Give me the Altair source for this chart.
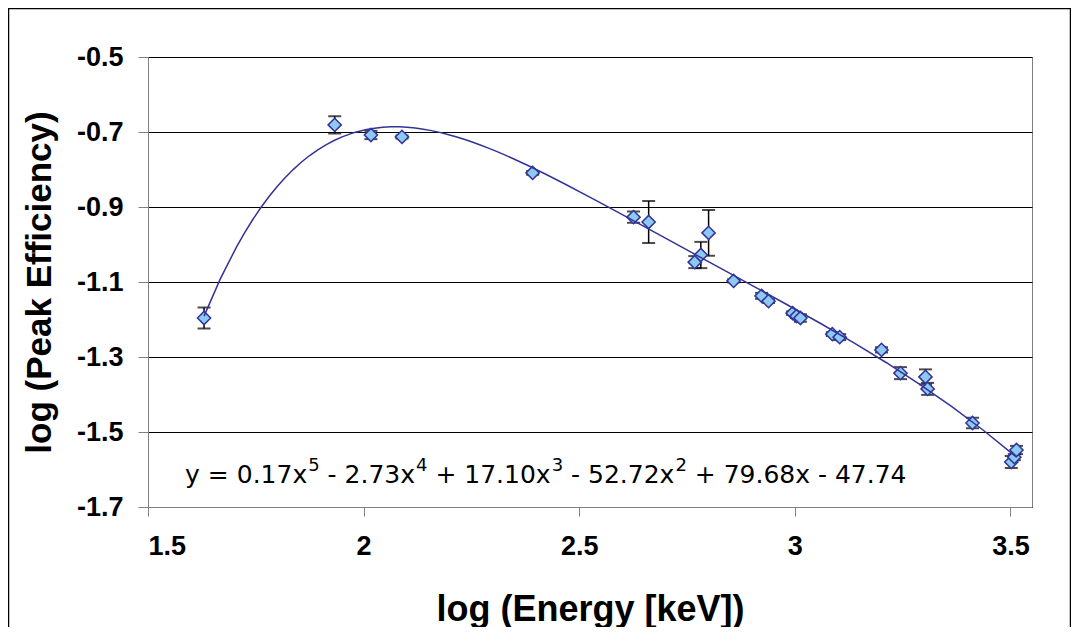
import altair as alt
import pandas as pd

# Data
log_energy = [1.630, 1.933, 2.017, 2.089, 2.392, 2.626, 2.661, 2.768, 2.782, 2.800,
              2.858, 2.923, 2.939, 2.995, 3.004, 3.013, 3.087, 3.104, 3.201, 3.245,
              3.303, 3.308, 3.412, 3.502, 3.509, 3.514]
log_eff = [-1.196, -0.681, -0.708, -0.713, -0.809, -0.927, -0.940, -1.047, -1.028, -0.969,
           -1.097, -1.137, -1.151, -1.183, -1.191, -1.196, -1.239, -1.247, -1.281, -1.343,
           -1.353, -1.385, -1.476, -1.580, -1.567, -1.548]
err = [0.028, 0.023, 0.011, 0.004, 0.005, 0.015, 0.056, 0.016, 0.035, 0.061,
       0.004, 0.008, 0.005, 0.005, 0.005, 0.010, 0.005, 0.008, 0.007, 0.016,
       0.020, 0.016, 0.014, 0.016, 0.008, 0.011]

x_ticks = [1.5, 2, 2.5, 3, 3.5]
y_ticks = [-1.7, -1.5, -1.3, -1.1, -0.9, -0.7, -0.5]

# Trendline equation label (anchor in data units) and its pieces
eq_x = [1.586]
eq_y = [-1.636]
eq_main = ["y = 0.17x", "- 2.73x", "+ 17.10x", "- 52.72x", "+ 79.68x - 47.74"]
eq_sup = ["5", "4", "3", "2"]

df = pd.DataFrame({
    "x": log_energy,
    "y": log_eff,
    "lo": [v - e for v, e in zip(log_eff, err)],
    "hi": [v + e for v, e in zip(log_eff, err)],
})
eq_df = pd.DataFrame({"x": eq_x, "y": eq_y})

FONT = "Liberation Sans"
EQ_FONT = "DejaVu Sans"
W, H = 884, 450

xscale = alt.Scale(domain=[1.5, 3.55], nice=False, zero=False)
yscale = alt.Scale(domain=[-1.7, -0.5], nice=False, zero=False)

x_axis = alt.Axis(
    title="log (Energy [keV])", values=x_ticks, format=".1~f", grid=False,
    labelFont=FONT, labelFontWeight="bold", labelFontSize=27, labelColor="black",
    labelPadding=17, tickSize=9, tickColor="#808080", domainColor="#808080",
    titleFont=FONT, titleFontWeight="bold", titleFontSize=36, titleColor="black",
    titleBaseline="alphabetic", titleY=113, titleX=W / 2,
)
y_axis = alt.Axis(
    title="log (Peak Efficiency)", values=y_ticks,
    labelExpr="datum.value < 0 ? '-' + format(abs(datum.value), '.1f') : format(datum.value, '.1f')",
    grid=True, gridColor="black", gridWidth=1,
    labelFont=FONT, labelFontWeight="bold", labelFontSize=27, labelColor="black",
    labelPadding=15, tickSize=10, tickColor="#808080", domainColor="#808080",
    titleFont=FONT, titleFontWeight="bold", titleFontSize=35, titleColor="black",
    titleBaseline="alphabetic", titleX=-98, titleY=H / 2,
)

base = alt.Chart(df)
X = alt.X("x:Q", scale=xscale, axis=x_axis)

bars = base.mark_rule(color="black", strokeWidth=1.5).encode(
    x=X, y=alt.Y("lo:Q", scale=yscale, axis=y_axis), y2="hi:Q")
cap_lo = base.mark_tick(color="black", thickness=2, size=13, orient="horizontal").encode(
    x="x:Q", y="lo:Q")
cap_hi = base.mark_tick(color="black", thickness=2, size=13, orient="horizontal").encode(
    x="x:Q", y="hi:Q")
pts = base.mark_point(shape="diamond", filled=True, fill="#8ccaf2", stroke="#333399",
                      strokeWidth=1.5, size=175, opacity=1).encode(x="x:Q", y="y:Q")
fit = base.transform_regression("x", "y", method="poly", order=5).mark_line(
    color="#333399", strokeWidth=1.5).encode(x="x:Q", y="y:Q")

# Equation: main pieces plus raised exponents, laid out with DejaVu Sans advance widths
ADV = {"0": 0.636, "1": 0.636, "2": 0.636, "3": 0.636, "4": 0.636, "5": 0.636,
       "6": 0.636, "7": 0.636, "8": 0.636, "9": 0.636, " ": 0.318, ".": 0.318,
       "-": 0.361, "+": 0.838, "=": 0.838, "x": 0.592, "y": 0.592}


def text_w(s, size):
    return sum(ADV.get(c, 0.6) for c in s) * size


MAIN_SIZE, SUP_SIZE = 25, 18
eq_layers = []
cursor = 0.0
for i, m in enumerate(eq_main):
    eq_layers.append(alt.Chart(eq_df).mark_text(
        text=m, align="left", baseline="alphabetic", font=EQ_FONT, fontSize=MAIN_SIZE,
        color="black", dx=round(cursor, 1)).encode(x="x:Q", y="y:Q"))
    cursor += text_w(m, MAIN_SIZE)
    if i < len(eq_sup):
        eq_layers.append(alt.Chart(eq_df).mark_text(
            text=eq_sup[i], align="left", baseline="alphabetic", font=EQ_FONT,
            fontSize=SUP_SIZE, color="black", dx=round(cursor + 1, 1), dy=-12).encode(
            x="x:Q", y="y:Q"))
        cursor += text_w(eq_sup[i], SUP_SIZE) + 1 + text_w(" ", MAIN_SIZE)

border = alt.Chart(pd.DataFrame({"d": [0]})).mark_rect(
    fillOpacity=0, stroke="black", strokeWidth=1.5).encode(
    x=alt.value(-139.5), x2=alt.value(922.5), y=alt.value(-48.5), y2=alt.value(700))

chart = alt.layer(bars, cap_lo, cap_hi, pts, fit, *eq_layers, border).properties(
    width=W, height=H,
    autosize=alt.AutoSizeParams(type="none"),
    padding={"left": 140, "top": 49, "right": 39, "bottom": 120},
    background="white",
).configure_view(stroke="#808080", strokeWidth=1)

chart.save("out.html", embed_options={"renderer": "svg", "actions": False})
